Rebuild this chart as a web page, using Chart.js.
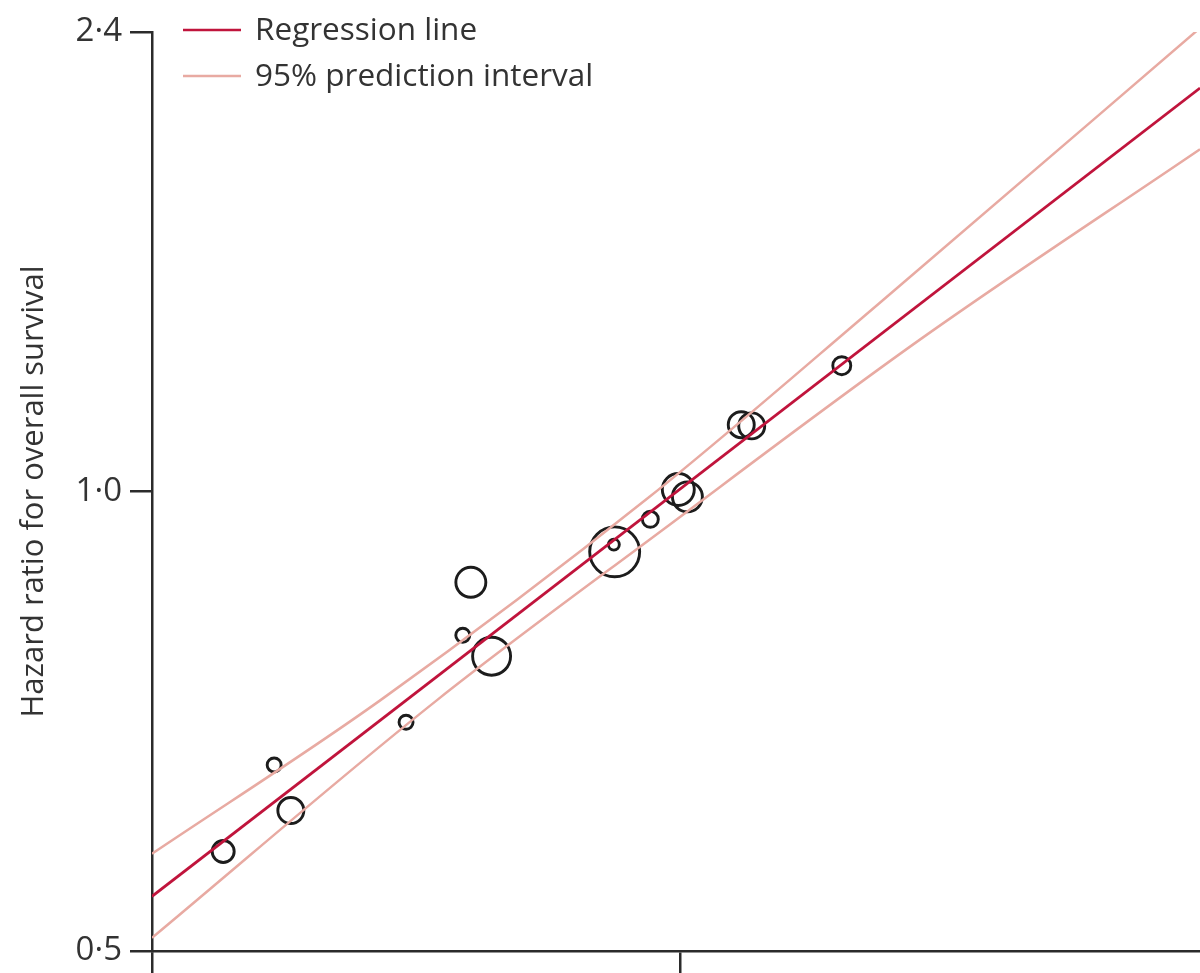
<!DOCTYPE html>
<html>
<head>
<meta charset="utf-8">
<script src="https://cdn.jsdelivr.net/npm/chart.js@4.4.1/dist/chart.umd.min.js"></script>
<style>
  html, body { margin: 0; padding: 0; background: #fff; }
  canvas { display: block; }
</style>
</head>
<body>
<canvas id="chart" width="1200" height="973"></canvas>
<script>
// studies: HR for surrogate (x) vs HR for overall survival (y), circle area ~ weight
const studyX = [0.549, 0.587, 0.600, 0.698, 0.752, 0.760, 0.781, 0.918, 0.917, 0.962, 0.998, 1.010, 1.084, 1.099, 1.237];
const studyY = [0.581, 0.662, 0.618, 0.706, 0.805, 0.872, 0.780, 0.913, 0.923, 0.959, 1.003, 0.992, 1.106, 1.104, 1.209];
const studyWeight = [12.1, 4.9, 16.9, 4.9, 4.9, 22.5, 36.1, 62.5, 3.0, 6.4, 25.6, 22.5, 16.9, 16.9, 8.1];

const regX = [0.5, 1.98];
const regY = [0.543, 1.838];

const upperX = [0.5, 0.675, 0.961, 1.300, 1.98];
const upperY = [0.579, 0.730, 0.992, 1.329, 2.012];
const lowerX = [0.5, 0.727, 0.978, 1.370, 1.98];
const lowerY = [0.510, 0.730, 0.944, 1.257, 1.676];

const xTickValues = [0.5, 1];
const yTickValues = [0.5, 1, 2];
const yTickLabels = ['0·5', '1·0', '2·4'];

const RED = '#c0143c';
const PINK = '#e8aaa2';
const INK = '#2b2b2b';
const FONT = '"Open Sans", "DejaVu Sans", sans-serif';

const zip = (xs, ys) => xs.map((x, i) => ({ x: x, y: ys[i] }));

const legendPlugin = {
  id: 'cornerLegend',
  afterDraw(chart, args, opts) {
    const ctx = chart.ctx;
    const left = chart.chartArea.left;
    ctx.save();
    ctx.font = opts.fontSize + 'px ' + FONT;
    ctx.textBaseline = 'middle';
    opts.items.forEach((item, i) => {
      const y = opts.top + i * opts.rowGap;
      ctx.strokeStyle = item.color;
      ctx.lineWidth = 2.5;
      ctx.beginPath();
      ctx.moveTo(left + 31, y);
      ctx.lineTo(left + 89, y);
      ctx.stroke();
      ctx.fillStyle = '#333';
      ctx.fillText(item.label, left + 103, y + 1);
    });
    ctx.restore();
  }
};

new Chart(document.getElementById('chart'), {
  type: 'scatter',
  data: {
    datasets: [
      {
        label: '95% prediction interval',
        data: zip(upperX, upperY),
        showLine: true, borderColor: PINK, borderWidth: 2.5,
        pointRadius: 0, cubicInterpolationMode: 'monotone'
      },
      {
        label: '95% prediction interval (lower)',
        data: zip(lowerX, lowerY),
        showLine: true, borderColor: PINK, borderWidth: 2.5,
        pointRadius: 0, cubicInterpolationMode: 'monotone'
      },
      {
        label: 'Regression line',
        data: zip(regX, regY),
        showLine: true, borderColor: RED, borderWidth: 2.8,
        pointRadius: 0
      },
      {
        label: 'Studies',
        data: zip(studyX, studyY),
        pointRadius: ctx => 3.16 * Math.sqrt(studyWeight[ctx.dataIndex]),
        pointBackgroundColor: 'rgba(0,0,0,0)',
        pointBorderColor: '#1c1c1c',
        pointBorderWidth: 2.9
      }
    ]
  },
  options: {
    responsive: false,
    animation: false,
    events: [],
    layout: { autoPadding: false, padding: { top: 32, right: 0, bottom: 0, left: 0 } },
    scales: {
      x: {
        type: 'logarithmic',
        min: 0.5,
        max: 1.98,
        afterBuildTicks: s => { s.ticks = xTickValues.map(v => ({ value: v })); },
        ticks: { display: false },
        grid: { drawOnChartArea: false, drawTicks: true, tickLength: 22, color: INK, lineWidth: 2.5 },
        border: { color: INK, width: 2.5 }
      },
      y: {
        type: 'logarithmic',
        min: 0.5,
        max: 2,
        afterBuildTicks: s => { s.ticks = yTickValues.map(v => ({ value: v })); },
        afterFit: s => { s.width = 152; },
        ticks: {
          padding: 8,
          color: '#333',
          font: { family: FONT, size: 33, lineHeight: 0.8 },
          callback: v => yTickLabels[yTickValues.indexOf(v)]
        },
        grid: { drawOnChartArea: false, drawTicks: true, tickLength: 22, color: INK, lineWidth: 2.5 },
        border: { color: INK, width: 2.5 },
        title: {
          display: true,
          text: 'Hazard ratio for overall survival',
          color: '#333',
          font: { family: FONT, size: 31 },
          padding: { top: 16, bottom: 0 }
        }
      }
    },
    plugins: {
      legend: { display: false },
      tooltip: { enabled: false },
      cornerLegend: {
        top: 30,
        rowGap: 46,
        fontSize: 31.5,
        items: [
          { label: 'Regression line', color: RED },
          { label: '95% prediction interval', color: PINK }
        ]
      }
    }
  },
  plugins: [legendPlugin]
});
</script>
</body>
</html>
